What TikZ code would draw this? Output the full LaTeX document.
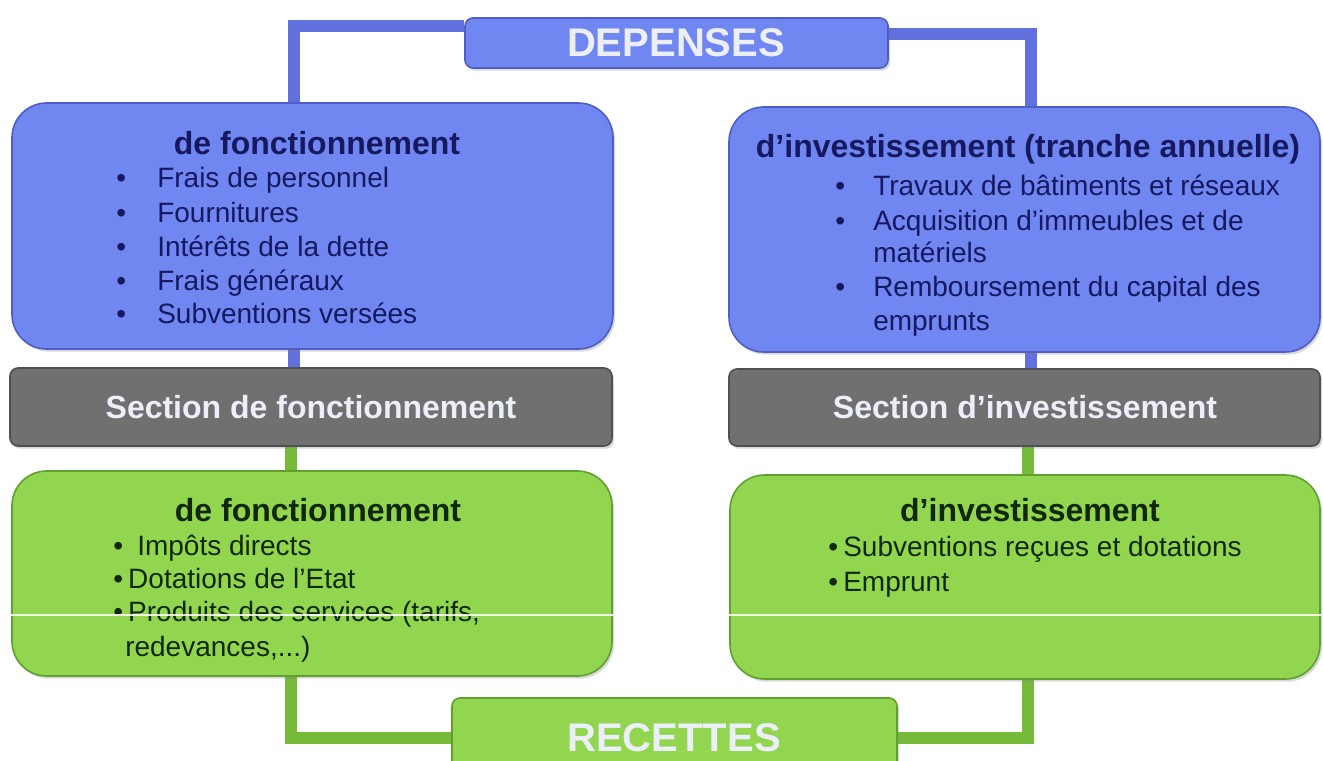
\documentclass[tikz,border=0pt]{standalone}
\usepackage{fontspec}
\setmainfont{Liberation Sans}
\usetikzlibrary{fit,shadows}
\definecolor{bfill}{RGB}{112,134,240}
\definecolor{bedge}{RGB}{78,94,196}
\definecolor{blinec}{RGB}{96,112,220}
\definecolor{gfill}{RGB}{146,214,80}
\definecolor{gedge}{RGB}{96,160,48}
\definecolor{glinec}{RGB}{118,186,58}
\definecolor{grfill}{RGB}{112,112,112}
\definecolor{gredge}{RGB}{80,80,80}
\definecolor{btext}{RGB}{22,24,96}
\definecolor{gtext}{RGB}{16,40,8}
\definecolor{wtext}{RGB}{236,238,250}
\pgfdeclarelayer{bg}\pgfsetlayers{bg,main}
\newcommand\bul[2]{\makebox[#1][l]{•}#2}
\begin{document}
\begin{tikzpicture}[x=0.75pt,y=-0.75pt,
 box/.style={inner sep=0pt, rounded corners=26pt, line width=1.2pt,
   drop shadow={opacity=0.3, shadow xshift=1.5pt, shadow yshift=-2pt}},
 bluebox/.style={box, fill=bfill, draw=bedge},
 greenbox/.style={box, fill=gfill, draw=gedge},
 graybox/.style={box, rounded corners=6pt, fill=grfill, draw=gredge},
 itm/.style={anchor=base west, inner sep=0pt, font=\fontsize{21pt}{25pt}\selectfont},
 hdr/.style={anchor=base, inner sep=0pt, font=\fontsize{24pt}{28pt}\selectfont\bfseries},
 big/.style={anchor=base, inner sep=0pt, font=\fontsize{30pt}{34pt}\selectfont\bfseries, text=wtext},
 bconn/.style={line width=8.5pt, draw=blinec},
 gconn/.style={line width=8.5pt, draw=glinec},
 glare/.style={draw=white, line width=1.2pt, opacity=0.85}]
\useasboundingbox (0,0) rectangle (1323,760);
\clip (0,0) rectangle (1323,760);
% helper coordinates for connector positions
\coordinate (xl) at (294,0);
\coordinate (xr) at (1031,0);
\coordinate (xlg) at (291,0);
\coordinate (xrg) at (1028,0);
\coordinate (yl) at (0,26);
\coordinate (yr) at (0,34);
% boxes
\node[bluebox, rounded corners=6pt, fit={(465,18) (888,68)}] (dep) {};
\node[big] (deptxt) at (676,56) {DEPENSES};
\node[bluebox, fit={(12,103) (613,349)}] (lb) {};
\node[bluebox, fit={(729,107) (1320,352)}] (rb) {};
\node[graybox, fit={(10,368) (612,446)}] (lgray) {};
\node[graybox, fit={(729,369) (1320,446)}] (rgray) {};
\node[greenbox, fit={(12,471) (612,676)}] (lgreen) {};
\node[greenbox, fit={(730,475) (1320,679)}] (rgreen) {};
\node[greenbox, rounded corners=6pt, fit={(452,698) (897,778)}] (rec) {};
\node[big] (rectxt) at (674,751) {RECETTES};
% left blue box text
\node[hdr, text=btext] (lbh) at (317,154) {de fonctionnement};
\node[itm, text=btext] (lb1) at (116,187) {\bul{30.75pt}{Frais de personnel}};
\node[itm, text=btext] (lb2) at (116,222) {\bul{30.75pt}{Fournitures}};
\node[itm, text=btext] (lb3) at (116,256) {\bul{30.75pt}{Intérêts de la dette}};
\node[itm, text=btext] (lb4) at (116,290) {\bul{30.75pt}{Frais généraux}};
\node[itm, text=btext] (lb5) at (116,323) {\bul{30.75pt}{Subventions versées}};
% right blue box text
\node[hdr, text=btext] (rbh) at (1028,157) {d'investissement (tranche annuelle)};
\node[itm, text=btext] (rb1) at (835,195) {\bul{28.5pt}{Travaux de bâtiments et réseaux}};
\node[itm, text=btext] (rb2) at (835,230) {\bul{28.5pt}{Acquisition d'immeubles et de}};
\node[itm, text=btext] (rb2b) at (873,262) {matériels};
\node[itm, text=btext] (rb3) at (835,296) {\bul{28.5pt}{Remboursement du capital des}};
\node[itm, text=btext] (rb3b) at (873,330) {emprunts};
% gray bars
\node[hdr, text=wtext] (lgt) at (311,418) {Section de fonctionnement};
\node[hdr, text=wtext] (rgt) at (1025,418) {Section d'investissement};
% left green text
\node[hdr, text=gtext] (lgh) at (318,521) {de fonctionnement};
\node[itm, text=gtext] (lg1) at (113,555) {\bul{18pt}{Impôts directs}};
\node[itm, text=gtext] (lg2) at (113,588) {\bul{11.25pt}{Dotations de l'Etat}};
\node[itm, text=gtext] (lg3) at (113,621) {\bul{11.25pt}{Produits des services (tarifs,}};
\node[itm, text=gtext] (lg3b) at (125,656) {redevances,...)};
% right green text
\node[hdr, text=gtext] (rgh) at (1030,521) {d'investissement};
\node[itm, text=gtext] (rg1) at (828,556) {\bul{11.25pt}{Subventions reçues et dotations}};
\node[itm, text=gtext] (rg2) at (828,591) {\bul{11.25pt}{Emprunt}};
% glare lines
\draw[glare] (lgreen.west |- 0,615) -- (lgreen.east |- 0,615);
\draw[glare] (rgreen.west |- 0,615) -- (rgreen.east |- 0,615);
% connectors
\begin{pgfonlayer}{bg}
\draw[bconn] (dep.west |- yl) -| (lb.north -| xl);
\draw[bconn] (dep.east |- yr) -| (rb.north -| xr);
\draw[bconn] (lb.south -| xl) -- (lgray.north -| xl);
\draw[bconn] (rb.south -| xr) -- (rgray.north -| xr);
\draw[gconn] (lgray.south -| xlg) -- (lgreen.north -| xlg);
\draw[gconn] (rgray.south -| xrg) -- (rgreen.north -| xrg);
\draw[gconn] (lgreen.south -| xlg) |- (rec.west);
\draw[gconn] (rgreen.south -| xrg) |- (rec.east);
\end{pgfonlayer}
\end{tikzpicture}
\end{document}
